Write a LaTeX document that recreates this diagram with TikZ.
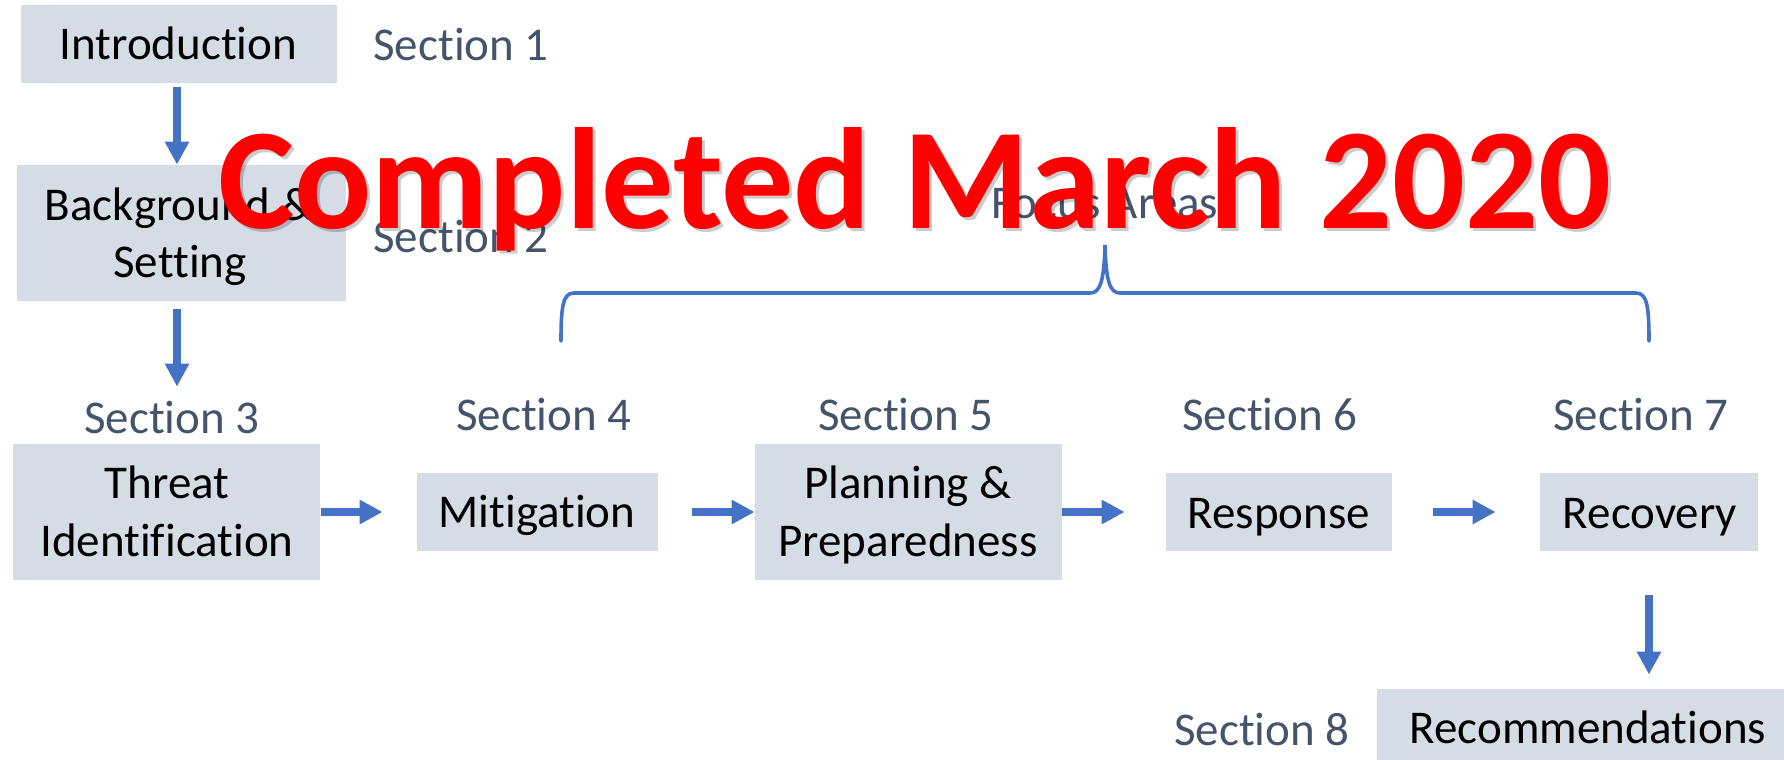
\documentclass[tikz,border=0pt]{standalone}
\usepackage{fontspec}
\setmainfont{Carlito}[Ligatures=NoCommon]
\usetikzlibrary{arrows.meta}
\definecolor{boxfill}{HTML}{D6DCE5}
\definecolor{arrowblue}{HTML}{4472C4}
\definecolor{secgray}{HTML}{44546A}
\definecolor{stampred}{HTML}{FF0000}
\begin{document}
\begin{tikzpicture}[x=0.5pt, y=-0.5pt,
  box/.style={fill=boxfill, draw=none, inner sep=0pt},
  txt/.style={font=\fontsize{23.5pt}{29pt}\selectfont, inner sep=0pt, anchor=base, text=black},
  sec/.style={txt, text=secgray},
  arr/.style={draw=arrowblue, line width=4pt, -{Triangle[length=11.5pt,width=11.5pt]}},
  brace/.style={draw=arrowblue, line width=1.8pt, line cap=round},
  stamp/.style={font=\fontsize{72pt}{80pt}\selectfont\bfseries, inner sep=0pt, anchor=base}]
\useasboundingbox (0,0) rectangle (1784,760);
\clip (0,0) rectangle (1784,760);
\coordinate (ax) at (177,0);
% boxes
\node[box, minimum width=158pt, minimum height=39pt] (intro) at (179,44) {};
\node[box, minimum width=164.5pt, minimum height=68pt] (bg) at (181.5,233) {};
\node[box, minimum width=153.5pt, minimum height=68pt] (threat) at (166.5,512) {};
\node[box, minimum width=120.5pt, minimum height=39pt] (mitig) at (537.5,512) {};
\node[box, minimum width=153.5pt, minimum height=68pt] (plan) at (908.5,512) {};
\node[box, minimum width=113pt, minimum height=39pt] (resp) at (1279,512) {};
\node[box, minimum width=109pt, minimum height=39pt] (recov) at (1649,512) {};
\node[box, minimum width=211pt, minimum height=39pt] (recomm) at (1588,728) {};
% box texts
\node[txt] (introT) at (178.5,60) {Introduction};
\node[txt] (bgT1) at (179,220) {Background \&};
\node[txt] (bgT2) at (180,277) {Setting};
\node[txt] (threatT1) at (167,498) {Threat};
\node[txt] (threatT2) at (167,556) {Identification};
\node[txt] (mitigT) at (537,527) {Mitigation};
\node[txt] (planT1) at (908,498) {Planning \&};
\node[txt] (planT2) at (908,556) {Preparedness};
\node[txt] (respT) at (1279,528) {Response};
\node[txt] (recovT) at (1650,528) {Recovery};
\node[txt] (recommT) at (1588,743) {Recommendations};
% section labels
\node[sec, anchor=base west] (s1) at (373,61) {Section 1};
\node[sec, anchor=base west] (s2) at (373,252) {Section 2};
\node[sec] (s3) at (172,433) {Section 3};
\node[sec] (s4) at (544,430) {Section 4};
\node[sec] (s5) at (906,430) {Section 5};
\node[sec] (s6) at (1270,430) {Section 6};
\node[sec] (s7) at (1641,430) {Section 7};
\node[sec] (s8) at (1262,745) {Section 8};
% arrows
\draw[arr, shorten <=2pt] (intro.south -| ax) -- (bg.north -| ax);
\draw[arr, shorten <=4pt, shorten >=28.5pt] (bg.south -| ax) -- (threat.north -| ax);
\draw[arr, shorten <=0.5pt, shorten >=17pt] (threat.east) -- (mitig.west);
\draw[arr, shorten <=17pt] (mitig.east) -- (plan.west);
\draw[arr, shorten >=20.5pt] (plan.east) -- (resp.west);
\draw[arr, shorten <=20.5pt, shorten >=22pt] (resp.east) -- (recov.west);
\draw[arr, shorten <=22pt, shorten >=7pt] (recov.south) -- (recov.south |- recomm.north);
% brace
\coordinate (braceL) at (561,341);
\coordinate (braceM) at (1105,245);
\coordinate (braceR) at (1649,341);
\draw[brace] (braceL) .. controls (561,306) and (563,293) .. (574,293) -- (1090,293)
  .. controls (1100,293) and (1104,282) .. (braceM)
  .. controls (1106,282) and (1110,293) .. (1120,293) -- (1636,293)
  .. controls (1647,293) and (1649,306) .. (braceR);
\node[sec] (focus) at (1105,218) {Focus Areas};
% stamp
\node[stamp, text=black, opacity=0.2] (stampS) at (918,231) {Completed March 2020};
\node[stamp, text=stampred] (stampT) at (915,228) {Completed March 2020};
\end{tikzpicture}
\end{document}
